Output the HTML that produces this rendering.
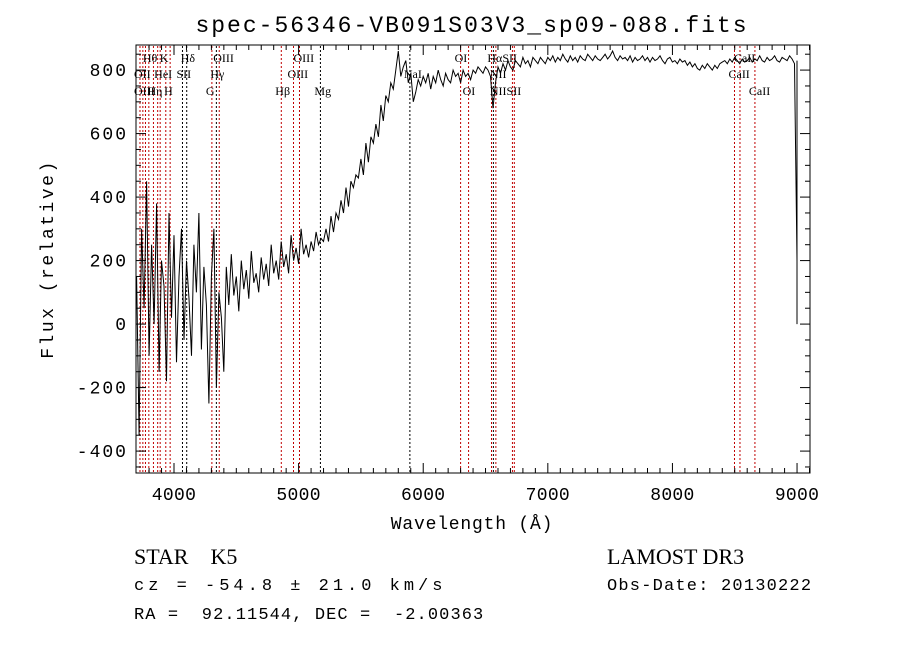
<!DOCTYPE html>
<html><head><meta charset="utf-8"><style>
body{margin:0;background:#fff;}
svg{display:block;}
text{font-family:"Liberation Mono",monospace;fill:#000;white-space:pre;}
.ln{font-family:"Liberation Serif",serif;font-size:12px;}
</style></head><body>
<svg id="chart" width="900" height="649" viewBox="0 0 900 649" xml:space="preserve">
<text x="472" y="32" font-size="23" letter-spacing="2" text-anchor="middle">spec-56346-VB091S03V3_sp09-088.fits</text>
<g id="lines"></g>
<path id="spec" fill="none" stroke="#000" stroke-width="1"/>
<rect x="136" y="45" width="674" height="428" fill="none" stroke="#000"/>
<g id="axes"></g>
<text x="472" y="529" font-size="18" letter-spacing="0.8" text-anchor="middle">Wavelength (Å)</text>
<text transform="translate(53,259) rotate(-90)" font-size="18" letter-spacing="2.5" text-anchor="middle">Flux (relative)</text>
<text x="134" y="564" font-size="22" style="font-family:'Liberation Serif',serif">STAR    K5</text>
<text x="134" y="590" font-size="17" letter-spacing="4">cz = -54.8 ± 21.0 km/s</text>
<text x="134" y="619" font-size="17" letter-spacing="1.1">RA =  92.11544, DEC =  -2.00363</text>
<text x="607" y="564" font-size="22" style="font-family:'Liberation Serif',serif">LAMOST DR3</text>
<text x="607" y="590" font-size="17" letter-spacing="1.2">Obs-Date: 20130222</text>
</svg>
<script>
const wlStart = 3700, wlStep = 20;
const flux = [
150,-350,300,50,450,-100,250,0,380,-150,200,120,-180,350,20,280,-120,150,300,-50,200,80,-100,250,100,350,-80,180,60,-250,150,300,-200,100,20,-150,
180,60,220,90,150,40,200,110,170,80,230,130,160,100,210,140,190,120,250,160,
200,140,260,180,220,160,280,200,240,190,300,220,250,210,260,230,290,250,270,260,
300,260,340,290,350,330,390,350,430,370,450,430,470,460,520,470,570,510,590,570,630,590,690,640,720,
700,760,740,800,860,780,810,830,760,790,700,730,770,750,780,
760,790,740,780,760,800,770,750,790,770,760,800,780,790,760,800,780,790,770,800,790,810,800,790,810,
800,780,680,760,810,790,820,800,830,810,800,830,820,810,840,820,830,810,840,830,820,840,830,820,840,
830,845,825,840,830,850,835,825,845,830,840,825,845,835,830,850,840,830,845,835,
830,840,850,835,845,860,840,830,845,835,840,830,845,825,840,830,835,845,830,840,
825,840,830,835,845,830,820,835,840,825,830,820,835,825,830,815,825,810,820,805,
800,815,805,820,810,800,815,805,820,825,830,820,835,825,840,830,820,835,825,830,
840,825,835,830,845,830,825,840,830,835,845,830,825,840,835,830,845,835,820,200
];
const lineWl = [3727,3750,3771,3798,3835,3869,3889,3934,3969,4068,4102,4304,4340,4363,4861,4959,5007,5175,5893,6300,6364,6548,6563,6583,6716,6731,8498,8542,8662];
const lineBlack = [0,0,0,0,0,0,0,0,0,1,1,0,1,0,0,0,0,1,1,0,0,0,1,0,0,0,0,0,0];
const labels = [["Hθ",3798,62],["K",3934,62],["Hδ",4102,62],["OIII",4363,62],["OIII",5007,62],["OI",6300,62],["HαSII",6563,62],["CaII",8542,62],
["OII",3727,78],["HeI",3889,78],["SII",4068,78],["Hγ",4340,78],["OIII",4959,78],["NaI",5893,78],["NII",6583,78],["CaII",8498,78],
["OIII",3727,95],["Hη",3835,95],["H",3969,95],["G",4304,95],["Hβ",4861,95],["Mg",5175,95],["OI",6364,95],["NIISII",6583,95],["CaII",8662,95]];
const xTicks = [4000,5000,6000,7000,8000,9000];
const yTicks = [-400,-200,0,200,400,600,800];
const X0=3695,X1=9104,Y0=-469,Y1=879;
const xs = w => 136 + (w-X0)/(X1-X0)*674;
const ys = v => 473 - (v-Y0)/(Y1-Y0)*428;
const NS="http://www.w3.org/2000/svg";
let d="";
flux.forEach((v,i)=>{const w=wlStart+i*wlStep;d+=(i?"L":"M")+xs(w).toFixed(1)+","+ys(v).toFixed(1);});
d+="M"+xs(9000).toFixed(1)+","+ys(830).toFixed(1)+"L"+xs(9000).toFixed(1)+","+ys(0).toFixed(1);
document.getElementById("spec").setAttribute("d",d);
const lg=document.getElementById("lines");
lineWl.forEach((w,i)=>{
 const l=document.createElementNS(NS,"line");
 
 
 l.setAttribute("x1",xs(w));l.setAttribute("x2",xs(w));l.setAttribute("y1",46);l.setAttribute("y2",472);
 l.setAttribute("stroke",lineBlack[i]?"#000":"#c00000");l.setAttribute("stroke-dasharray","2,2");
 lg.appendChild(l);
});
labels.forEach(a=>{
 const t=document.createElementNS(NS,"text");
 
 
 t.setAttribute("class","ln");t.setAttribute("x",xs(a[1])-6);t.setAttribute("y",a[2]);
 t.textContent=a[0];lg.appendChild(t);
});
const ax=document.getElementById("axes");
function ln(x1,y1,x2,y2){const l=document.createElementNS(NS,"line");l.setAttribute("x1",x1);l.setAttribute("y1",y1);l.setAttribute("x2",x2);l.setAttribute("y2",y2);l.setAttribute("stroke","#000");ax.appendChild(l);}
for(let w=3800;w<=9100;w+=100){const big=w%1000===0;const x=xs(w);ln(x,473,x,473-(big?10:5));ln(x,45,x,45+(big?10:5));}
xTicks.forEach(w=>{const t=document.createElementNS(NS,"text");
 
 
 t.setAttribute("x",xs(w));t.setAttribute("y",500);t.setAttribute("font-size","18");t.setAttribute("letter-spacing","0.3");t.setAttribute("text-anchor","middle");t.textContent=w;ax.appendChild(t);});
for(let v=-450;v<=850;v+=50){const big=v%200===0;const y=ys(v);ln(136,y,136+(big?10:5),y);ln(810,y,810-(big?10:5),y);}
yTicks.forEach(v=>{const t=document.createElementNS(NS,"text");
 
 
 t.setAttribute("x",128);t.setAttribute("y",ys(v)+6);t.setAttribute("font-size","18");t.setAttribute("letter-spacing","2");t.setAttribute("text-anchor","end");t.textContent=v;ax.appendChild(t);});
</script>
</body></html>
